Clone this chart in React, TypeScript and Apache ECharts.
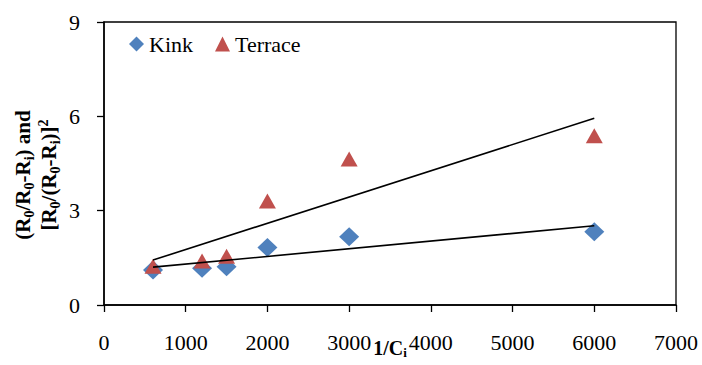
import React, { useEffect, useRef } from "react";
import * as echarts from "echarts";

const xValues = [600, 1200, 1500, 2000, 3000, 6000];
const kink = [1.11, 1.17, 1.22, 1.83, 2.17, 2.33];
const terrace = [1.23, 1.4, 1.55, 3.31, 4.64, 5.38];
const xTicks = [0, 1000, 2000, 3000, 4000, 5000, 6000, 7000];
const yTicks = [0, 3, 6, 9];

const FONT = "'Liberation Serif', 'Times New Roman', serif";

function fitLine(xs: number[], ys: number[]) {
  const n = xs.length;
  const mx = xs.reduce((a, b) => a + b, 0) / n;
  const my = ys.reduce((a, b) => a + b, 0) / n;
  let sxy = 0;
  let sxx = 0;
  for (let i = 0; i < n; i++) {
    sxy += (xs[i] - mx) * (ys[i] - my);
    sxx += (xs[i] - mx) * (xs[i] - mx);
  }
  const slope = sxy / sxx;
  const icpt = my - slope * mx;
  const x0 = Math.min(...xs);
  const x1 = Math.max(...xs);
  return [
    [x0, icpt + slope * x0],
    [x1, icpt + slope * x1],
  ];
}

export default function App() {
  const ref = useRef<HTMLDivElement>(null);
  useEffect(() => {
    document.body.style.margin = "0";
    if (!ref.current) return;
    const chart = echarts.init(ref.current, null, { renderer: "svg" });
    const mkRich = (fs: number, lh: number) => ({
      b: { fontFamily: FONT, fontWeight: "bold", fontSize: fs, color: "#000", lineHeight: lh },
      s: { fontFamily: FONT, fontWeight: "bold", fontSize: Math.round(fs * 0.65), color: "#000", lineHeight: lh, verticalAlign: "bottom" },
      p: { fontFamily: FONT, fontWeight: "bold", fontSize: Math.round(fs * 0.65), color: "#000", lineHeight: lh, verticalAlign: "top" },
    });
    chart.setOption({
      animation: false,
      textStyle: { fontFamily: FONT },
      grid: {
        left: 104,
        right: 26,
        top: 22,
        bottom: 60,
        outerBoundsMode: "none",
        containLabel: false,
        show: true,
        borderColor: "#000",
        borderWidth: 1.3,
      },
      legend: {
        left: 124,
        top: 28,
        itemWidth: 15,
        itemHeight: 15,
        itemGap: 22,
        textStyle: { fontFamily: FONT, fontSize: 22, color: "#000" },
        data: [
          { name: "Kink", icon: "diamond" },
          { name: "Terrace", icon: "triangle" },
        ],
      },
      graphic: [
        {
          type: "text",
          x: 36,
          y: 175,
          rotation: Math.PI / 2,
          style: {
            text:
              "{b|(R}{s|0}{b|/R}{s|0}{b|-R}{s|i}{b|) and}\n{b|[R}{s|0}{b|/(R}{s|0}{b|-R}{s|i}{b|)]}{p|2}",
            rich: mkRich(21, 26),
            align: "center",
            verticalAlign: "middle",
          },
        },
      ],
      xAxis: {
        type: "value",
        min: xTicks[0],
        max: xTicks[xTicks.length - 1],
        interval: 1000,
        name: "{b|1/C}{s|i}",
        nameLocation: "middle",
        nameGap: 32,
        nameMoveOverlap: false,
        nameTextStyle: { rich: mkRich(20, 22) },
        axisLine: { onZero: false, lineStyle: { color: "#000", width: 1.5 } },
        axisTick: { show: true, length: 7, lineStyle: { color: "#000", width: 1.3 } },
        axisLabel: {
          margin: 26,
          fontFamily: FONT,
          fontSize: 22,
          color: "#000",
          formatter: (v: number) => String(v),
        },
        splitLine: { show: false },
      },
      yAxis: {
        type: "value",
        min: yTicks[0],
        max: yTicks[yTicks.length - 1],
        interval: 3,
        axisLine: { onZero: false, lineStyle: { color: "#000", width: 1.5 } },
        axisTick: { show: true, length: 7, lineStyle: { color: "#000", width: 1.3 } },
        axisLabel: {
          margin: 24,
          fontFamily: FONT,
          fontSize: 22,
          color: "#000",
          formatter: (v: number) => String(v),
        },
        splitLine: { show: false },
      },
      series: [
        {
          name: "Kink",
          type: "scatter",
          symbol: "diamond",
          symbolSize: [20, 19],
          itemStyle: { color: "#4F81BD", opacity: 1 },
          data: xValues.map((x, i) => [x, kink[i]]),
          z: 3,
        },
        {
          name: "Terrace",
          type: "scatter",
          symbol: "triangle",
          symbolSize: [17, 15],
          itemStyle: { color: "#C0504D", opacity: 1 },
          data: xValues.map((x, i) => [x, terrace[i]]),
          z: 4,
        },
        {
          name: "Kink trend",
          type: "line",
          symbol: "none",
          lineStyle: { color: "#000", width: 1.6 },
          data: fitLine(xValues, kink),
          z: 5,
        },
        {
          name: "Terrace trend",
          type: "line",
          symbol: "none",
          lineStyle: { color: "#000", width: 1.6 },
          data: fitLine(xValues, terrace),
          z: 5,
        },
      ],
    });
    return () => chart.dispose();
  }, []);
  return <div ref={ref} style={{ width: 702, height: 365 }} />;
}
